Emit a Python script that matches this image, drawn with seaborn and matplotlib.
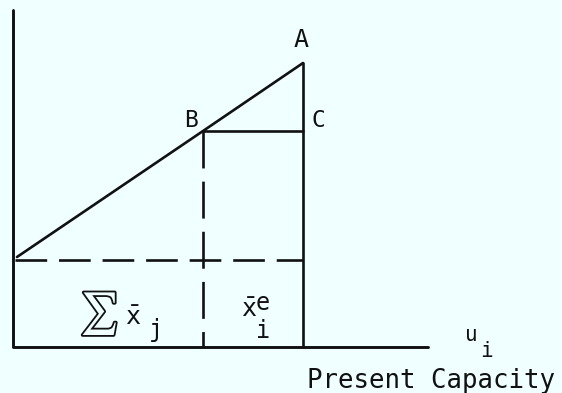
import matplotlib
matplotlib.use("Agg")
import matplotlib.pyplot as plt
import matplotlib.patheffects as pe
import seaborn as sns

# Diagram geometry (origin at the corner of the two axes)
axis_x = [0, 0, 415]          # vertical axis top -> origin -> end of capacity axis
axis_y = [337, 0, 0]
cost_line_x = [4, 190, 290]   # rising line through B up to A
cost_line_y = [90, 216, 284]
base_level = 87               # dashed horizontal level
x_B, y_B = 190, 216
x_A, y_A = 290, 284

point_labels = ["A", "B", "C"]
axis_label = "Present Capacity"

BG = "#F0FFFF"
INK = "#111111"
MONO = "DejaVu Sans Mono"

sns.set_theme(style="white", rc={"figure.facecolor": BG, "axes.facecolor": BG})

fig = plt.figure(figsize=(5.62, 3.93), dpi=100)
ax = fig.add_axes([0, 0, 1, 1])
ax.set_facecolor(BG)

line_kw = dict(ax=ax, color=INK, estimator=None, sort=False, legend=False)

# axes
sns.lineplot(x=axis_x, y=axis_y, lw=2.1, **line_kw)
# rising line
sns.lineplot(x=cost_line_x, y=cost_line_y, lw=1.9, **line_kw)
# B -> C horizontal and A -> axis vertical
sns.lineplot(x=[x_B, x_A], y=[y_B, y_B], lw=1.9, **line_kw)
sns.lineplot(x=[x_A, x_A], y=[y_A, 0], lw=1.9, **line_kw)
# dashed guides
sns.lineplot(x=[x_B, x_B], y=[y_B, 0], lw=1.9, linestyle=(0, (14, 5)), **line_kw)
sns.lineplot(x=[2, x_A], y=[base_level, base_level], lw=1.9,
             linestyle=(0, (12, 4.5)), **line_kw)

# point labels
ax.text(x_A - 2, y_A + 16, point_labels[0], fontsize=18, family=MONO,
        ha="center", va="baseline", color=INK)
ax.text(x_B - 12, y_B + 4, point_labels[1], fontsize=16.5, family=MONO,
        ha="center", va="baseline", color=INK)
ax.text(x_A + 15, y_B + 4, point_labels[2], fontsize=16.5, family=MONO,
        ha="center", va="baseline", color=INK)

# sum of the other firms' outputs
ax.text(86, 33, r"$\sum$", fontsize=30, math_fontfamily="stix", ha="center",
        va="center", color=BG,
        path_effects=[pe.withStroke(linewidth=2.6, foreground=INK)])
ax.text(120, 22, r"$\bar{\mathtt{x}}$", fontsize=18, ha="center",
        va="baseline", color=INK)
ax.text(143, 10, "j", fontsize=17, family=MONO, ha="center",
        va="baseline", color=INK)

# own output segment
ax.text(236, 30, r"$\bar{\mathtt{x}}$", fontsize=18, ha="center",
        va="baseline", color=INK)
ax.text(250, 37, "e", fontsize=17, family=MONO, ha="center",
        va="baseline", color=INK)
ax.text(250, 9, "i", fontsize=17, family=MONO, ha="center",
        va="baseline", color=INK)

# capacity axis label
ax.text(458, 6, "u", fontsize=15, family=MONO, ha="center",
        va="baseline", color=INK)
ax.text(473, -10, "i", fontsize=15, family=MONO, ha="center",
        va="baseline", color=INK)
ax.text(294, -41, axis_label, fontsize=18.5, family=MONO, ha="left",
        va="baseline", color=INK)

ax.set_xlim(-13, 549)
ax.set_ylim(-46, 347)
ax.axis("off")

fig.savefig("out.png", dpi=100, facecolor=BG)
